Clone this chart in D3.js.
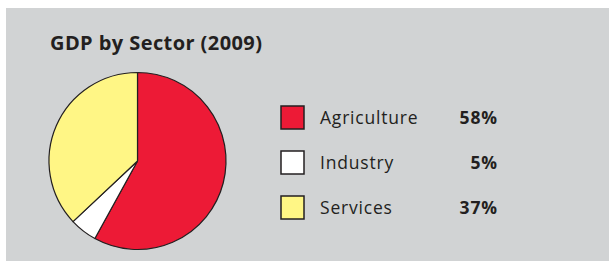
<!DOCTYPE html>
<meta charset="utf-8">
<script src="https://d3js.org/d3.v7.min.js"></script>
<style>
    body { margin: 0; background: #fff; }
    .title { font-family: 'Open Sans', sans-serif; font-weight: bold; font-size: 20px; fill: #231f20; }
    .lbl { font-family: 'Open Sans', sans-serif; font-size: 17.5px; letter-spacing: 0.8px; fill: #231f20; }
    .pct { font-family: 'Open Sans', sans-serif; font-weight: bold; font-size: 17.5px; letter-spacing: 0.8px; fill: #231f20; }
</style>
<div id="chart"></div>
<script>
    // data
    let sectors = ["Agriculture", "Industry", "Services"];
    let shares = [58, 5, 37];
    let pctLabels = ["58%", "5%", "37%"];

    let width = 609, height = 261;

    let svg = d3.select("#chart")
        .append("svg")
        .attr("width", width)
        .attr("height", height);

    // gray panel
    svg.append("rect")
        .attr("x", 6).attr("y", 8)
        .attr("width", width - 6).attr("height", height - 8)
        .attr("fill", "#d1d3d4");

    svg.append("text")
        .attr("class", "title")
        .attr("x", 50).attr("y", 50)
        .attr("textLength", 212)
        .text("GDP by Sector (2009)");

    let color = d3.scaleOrdinal()
        .domain(sectors)
        .range(["#ed1a36", "#ffffff", "#fff685"]);

    let pie = d3.pie()
        .sort(null)
        .value(function (d, i) { return shares[i]; });

    let arc = d3.arc().innerRadius(0).outerRadius(88.5);

    let g = svg.append("g")
        .attr("transform", "translate(137.5,161)");

    g.selectAll("path")
        .data(pie(sectors))
        .enter()
        .append("path")
        .attr("d", arc)
        .attr("fill", function (d) { return color(d.data); })
        .attr("stroke", "#231f20")
        .attr("stroke-width", 1.2)
        .attr("stroke-linejoin", "round");

    // legend
    let y = d3.scalePoint()
        .domain(sectors)
        .range([118, 208]);

    let legend = svg.append("g");

    let rows = legend.selectAll("g")
        .data(sectors)
        .enter()
        .append("g")
        .attr("transform", function (d) { return "translate(0," + y(d) + ")"; });

    rows.append("rect")
        .attr("x", 281).attr("y", -12)
        .attr("width", 23).attr("height", 23)
        .attr("fill", function (d) { return color(d); })
        .attr("stroke", "#231f20")
        .attr("stroke-width", 1.5);

    rows.append("text")
        .attr("class", "lbl")
        .attr("x", 320).attr("y", 6)
        .text(function (d) { return d; });

    rows.append("text")
        .attr("class", "pct")
        .attr("x", 497.8).attr("y", 6)
        .attr("text-anchor", "end")
        .text(function (d, i) { return pctLabels[i]; });
</script>
